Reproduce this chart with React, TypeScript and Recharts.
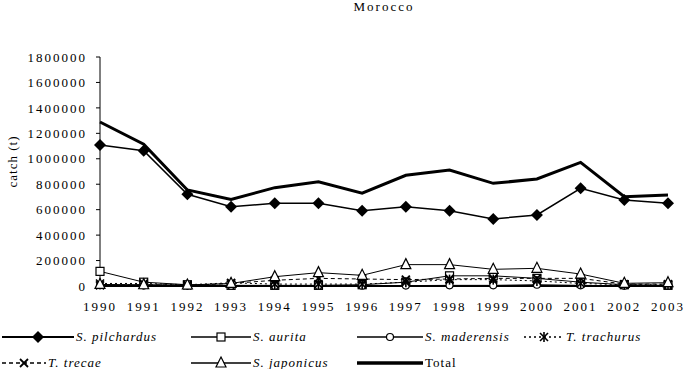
import React from "react";
import { LineChart, Line, XAxis, YAxis } from "recharts";

const years = ["1990", "1991", "1992", "1993", "1994", "1995", "1996", "1997", "1998", "1999", "2000", "2001", "2002", "2003"];

const pilchardus = [1108000, 1063000, 721000, 623000, 650000, 650000, 592000, 623000, 592000, 527000, 558000, 768000, 676000, 650000];
const aurita = [115000, 30000, 10000, 5000, 5000, 5000, 10000, 30000, 80000, 80000, 60000, 30000, 10000, 5000];
const maderensis = [5000, 3000, 2000, 2000, 2000, 2000, 2000, 3000, 5000, 5000, 10000, 5000, 2000, 2000];
const trachurus = [20000, 20000, 10000, 25000, 15000, 15000, 15000, 30000, 50000, 50000, 40000, 20000, 10000, 10000];
const trecae = [5000, 10000, 5000, 20000, 45000, 60000, 55000, 50000, 55000, 60000, 60000, 60000, 15000, 15000];
const japonicus = [12000, 10000, 8000, 20000, 73000, 105000, 84000, 168000, 168000, 131000, 139000, 94000, 21000, 26000];
const total = [1289000, 1114000, 755000, 681000, 773000, 820000, 729000, 870000, 912000, 807000, 841000, 972000, 702000, 715000];

const yTicks = [0, 200000, 400000, 600000, 800000, 1000000, 1200000, 1400000, 1600000, 1800000];

const data = years.map((year, i) => ({
  year,
  pilchardus: pilchardus[i],
  aurita: aurita[i],
  maderensis: maderensis[i],
  trachurus: trachurus[i],
  trecae: trecae[i],
  japonicus: japonicus[i],
  total: total[i],
}));

const FONT = "'Liberation Serif', 'DejaVu Serif', serif";

// marker shapes, drawn around (x, y)
function Marker({ kind, x, y }: { kind: string; x: number; y: number }) {
  switch (kind) {
    case "diamond":
      return <polygon points={`${x},${y - 6} ${x + 6},${y} ${x},${y + 6} ${x - 6},${y}`} fill="#000" />;
    case "square":
      return <rect x={x - 4} y={y - 4} width={8} height={8} fill="#fff" stroke="#000" strokeWidth={1.2} />;
    case "circle":
      return <circle cx={x} cy={y} r={3.5} fill="#fff" stroke="#000" strokeWidth={1.2} />;
    case "asterisk":
      return (
        <g stroke="#000" strokeWidth={1.6}>
          <line x1={x - 4} y1={y - 4} x2={x + 4} y2={y + 4} />
          <line x1={x - 4} y1={y + 4} x2={x + 4} y2={y - 4} />
          <line x1={x} y1={y - 5} x2={x} y2={y + 5} />
        </g>
      );
    case "cross":
      return (
        <g stroke="#000" strokeWidth={1.8}>
          <line x1={x - 4} y1={y - 4} x2={x + 4} y2={y + 4} />
          <line x1={x - 4} y1={y + 4} x2={x + 4} y2={y - 4} />
        </g>
      );
    case "triangle":
      return <polygon points={`${x},${y - 6} ${x + 5},${y + 4} ${x - 5},${y + 4}`} fill="#fff" stroke="#000" strokeWidth={1.2} />;
    default:
      return null;
  }
}

const series = [
  { key: "pilchardus", name: "S. pilchardus", italic: true, marker: "diamond", width: 1.5, dash: undefined, lx: 2, row: 0, len: 72 },
  { key: "aurita", name: "S. aurita", italic: true, marker: "square", width: 1, dash: undefined, lx: 191, row: 0, len: 60 },
  { key: "maderensis", name: "S. maderensis", italic: true, marker: "circle", width: 1, dash: undefined, lx: 357, row: 0, len: 66 },
  { key: "trachurus", name: "T. trachurus", italic: true, marker: "asterisk", width: 1, dash: "2 3", lx: 524, row: 0, len: 40 },
  { key: "trecae", name: "T. trecae", italic: true, marker: "cross", width: 1, dash: "4 3", lx: 2, row: 1, len: 44 },
  { key: "japonicus", name: "S. japonicus", italic: true, marker: "triangle", width: 1, dash: undefined, lx: 191, row: 1, len: 60 },
  { key: "total", name: "Total", italic: false, marker: "", width: 3, dash: undefined, lx: 357, row: 1, len: 66 },
];

const textStyle = { fontFamily: FONT, fontSize: 13, letterSpacing: 2, fill: "#000" };

export default function App() {
  return (
    <div style={{ position: "absolute", left: 0, top: 0, width: 684, height: 369, background: "#fff", fontFamily: FONT }}>
      <div style={{ position: "absolute", left: 0, width: 768, top: -1, textAlign: "center", fontSize: 13, letterSpacing: 2 }}>
        Morocco
      </div>
      <LineChart width={684} height={369} data={data} margin={{ top: 57, right: 16, left: 0, bottom: 53 }}>
        <XAxis
          dataKey="year"
          axisLine={{ stroke: "#000", strokeWidth: 2 }}
          tickLine={false}
          tickMargin={10}
          tick={textStyle}
          interval={0}
        />
        <YAxis
          domain={[0, 1800000]}
          ticks={yTicks}
          width={100}
          axisLine={{ stroke: "#000" }}
          tickLine={{ stroke: "#000" }}
          tickSize={4}
          tickMargin={9}
          tick={textStyle}
          interval={0}
          label={{ value: "catch (t)", angle: -90, position: "insideLeft", offset: 12, dy: -10, style: { ...textStyle, letterSpacing: 1, textAnchor: "middle" } }}
        />
        {series.map((s) => (
          <Line
            key={s.key}
            dataKey={s.key}
            name={s.name}
            stroke="#000"
            strokeWidth={s.width}
            strokeDasharray={s.dash}
            isAnimationActive={false}
            dot={s.marker ? (p: any) => <Marker key={p.index} kind={s.marker} x={p.cx} y={p.cy} /> : false}
            activeDot={false}
          />
        ))}
      </LineChart>
      {series.map((s) => (
        <div
          key={s.key}
          style={{ position: "absolute", left: s.lx, top: 329 + s.row * 26, height: 16, display: "flex", alignItems: "center", fontSize: 13, letterSpacing: 1, fontStyle: s.italic ? "italic" : "normal", whiteSpace: "nowrap" }}
        >
          <svg width={s.len} height={16}>
            <line x1={0} y1={8} x2={s.len} y2={8} stroke="#000" strokeWidth={s.width + 0.5} strokeDasharray={s.dash} />
            {s.marker && <Marker kind={s.marker} x={s.len / 2} y={8} />}
          </svg>
          <span style={{ marginLeft: 2 }}>{s.name}</span>
        </div>
      ))}
    </div>
  );
}
